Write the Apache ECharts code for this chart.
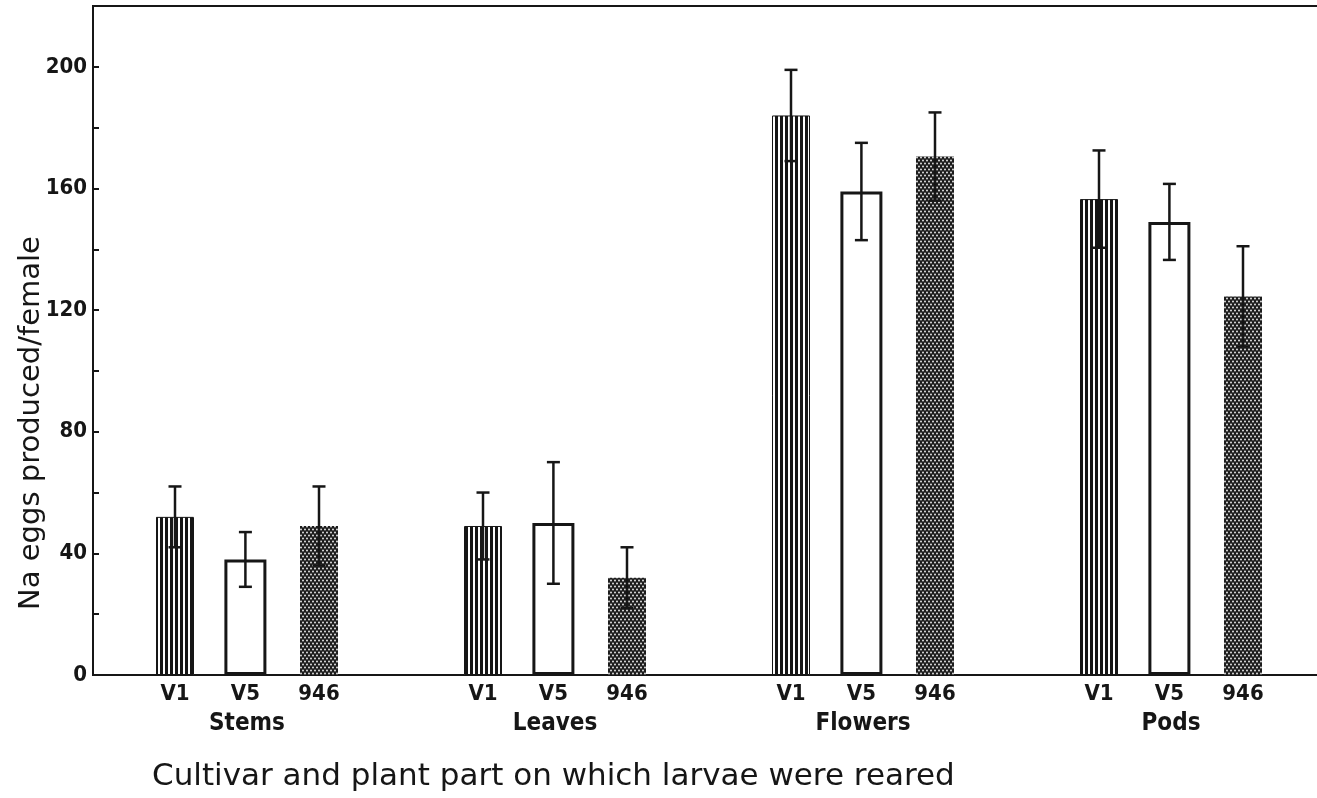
<!DOCTYPE html>
<html><head><meta charset="utf-8">
<script src="https://cdn.jsdelivr.net/npm/echarts@6/dist/echarts.min.js"></script>
<style>html,body{margin:0;padding:0;background:#fff}#c{width:1317px;height:798px}</style>
</head><body><div id="c"></div>
<script>
// ---- data ----
const categories = ['Stems', 'Leaves', 'Flowers', 'Pods'];
const cultivars = ['V1', 'V5', '946'];
const meanV1 = [52, 49, 184, 156.5];
const errV1 = [10, 11, 15, 16];
const meanV5 = [38, 50, 159, 149];
const errV5 = [9, 20, 16, 12.5];
const mean946 = [49, 32, 170.5, 124.5];
const err946 = [13, 10, 14.5, 16.5];
const yTickLabels = [0, 40, 80, 120, 160, 200];
const yAxisTitle = 'Na eggs produced/female';
const xAxisTitle = 'Cultivar and plant part on which larvae were reared';

// ---- styling / layout ----
const INK = '#161616';
const BAR_WIDTHS = [38, 42, 38];
const BAR_GAP = 0.8;
const numFont = "'DejaVu Sans Condensed', 'Liberation Sans Narrow', 'DejaVu Sans', sans-serif";

function barOffsets() {
  let sum = 0;
  BAR_WIDTHS.forEach(w => sum += w * (1 + BAR_GAP));
  sum -= BAR_WIDTHS[BAR_WIDTHS.length - 1] * BAR_GAP;
  let off = -sum / 2;
  return BAR_WIDTHS.map(w => { const c = off + w / 2; off += w * (1 + BAR_GAP); return c; });
}
const OFFSETS = barOffsets();

function stripePattern() {
  const c = document.createElement('canvas');
  c.width = 5; c.height = 8;
  const g = c.getContext('2d');
  g.fillStyle = '#fff'; g.fillRect(0, 0, 5, 8);
  g.fillStyle = INK; g.fillRect(0, 0, 3, 8);
  return c;
}
function dotPattern() {
  const c = document.createElement('canvas');
  c.width = 4; c.height = 6;
  const g = c.getContext('2d');
  g.fillStyle = '#1c1c1c'; g.fillRect(0, 0, 4, 6);
  g.fillStyle = '#f4f4f4';
  g.beginPath(); g.arc(1, 1.5, 0.9, 0, Math.PI * 2); g.fill();
  g.beginPath(); g.arc(3, 4.5, 0.9, 0, Math.PI * 2); g.fill();
  return c;
}

const means = [meanV1, meanV5, mean946];
const errs = [errV1, errV5, err946];
const fills = [
  { image: stripePattern(), repeat: 'repeat' },
  '#ffffff',
  { image: dotPattern(), repeat: 'repeat' }
];
const borders = [1, 3, 0];

const series = [];
cultivars.forEach((name, k) => {
  series.push({
    type: 'bar',
    name: name,
    data: means[k],
    barWidth: BAR_WIDTHS[k],
    barGap: (BAR_GAP * 100) + '%',
    itemStyle: { color: fills[k], borderColor: INK, borderWidth: borders[k] },
    label: {
      show: true, position: 'bottom', distance: 8, formatter: '{a}',
      color: INK, fontFamily: numFont, fontWeight: 'bold', fontSize: 22
    },
    z: 2
  });
});
cultivars.forEach((name, k) => {
  series.push({
    type: 'custom',
    name: name + ' SE',
    data: categories.map((c, i) => [i, means[k][i], errs[k][i]]),
    encode: { x: 0, y: 1 },
    z: 5,
    renderItem: function (params, api) {
      const i = api.value(0), m = api.value(1), e = api.value(2);
      const x = api.coord([i, m])[0] + OFFSETS[k];
      const yTop = api.coord([i, m + e])[1];
      const yBot = api.coord([i, m - e])[1];
      const cw = 6.5;
      const st = { stroke: INK, lineWidth: 2.5 };
      return {
        type: 'group', children: [
          { type: 'line', shape: { x1: x, y1: yTop, x2: x, y2: yBot }, style: st },
          { type: 'line', shape: { x1: x - cw, y1: yTop, x2: x + cw, y2: yTop }, style: st },
          { type: 'line', shape: { x1: x - cw, y1: yBot, x2: x + cw, y2: yBot }, style: st }
        ]
      };
    }
  });
});

const chart = echarts.init(document.getElementById('c'), null, { renderer: 'canvas' });
chart.setOption({
  animation: false,
  backgroundColor: '#ffffff',
  grid: {
    left: 93, top: 6, width: 1232, bottom: 123,
    outerBoundsMode: 'none', containLabel: false,
    show: true, borderColor: INK, borderWidth: 2, backgroundColor: 'transparent'
  },
  xAxis: {
    type: 'category',
    data: categories,
    axisLine: { show: true, lineStyle: { color: INK, width: 2 } },
    axisTick: { show: false },
    axisLabel: { margin: 37, color: INK, fontFamily: numFont, fontWeight: 'bold', fontSize: 24 },
    splitLine: { show: false }
  },
  yAxis: {
    type: 'value',
    min: 0, max: 220, interval: 20,
    axisLine: { show: true, lineStyle: { color: INK, width: 2 } },
    axisTick: { show: true, inside: true, length: 6, lineStyle: { color: INK, width: 2 } },
    axisLabel: {
      margin: 6, color: INK, fontFamily: numFont, fontWeight: 'bold', fontSize: 22,
      formatter: v => (yTickLabels.indexOf(v) >= 0 ? String(v) : '')
    },
    splitLine: { show: false }
  },
  graphic: [
    {
      type: 'text', x: 31, y: 423, rotation: Math.PI / 2,
      style: {
        text: yAxisTitle, fill: INK, font: "29px 'DejaVu Sans', sans-serif",
        textAlign: 'center', textVerticalAlign: 'middle'
      }
    },
    {
      type: 'text', x: 152, y: 777,
      style: {
        text: xAxisTitle, fill: INK, font: "31px 'DejaVu Sans', sans-serif",
        textAlign: 'left', textVerticalAlign: 'middle'
      }
    }
  ],
  series: series
});
</script>
</body></html>
